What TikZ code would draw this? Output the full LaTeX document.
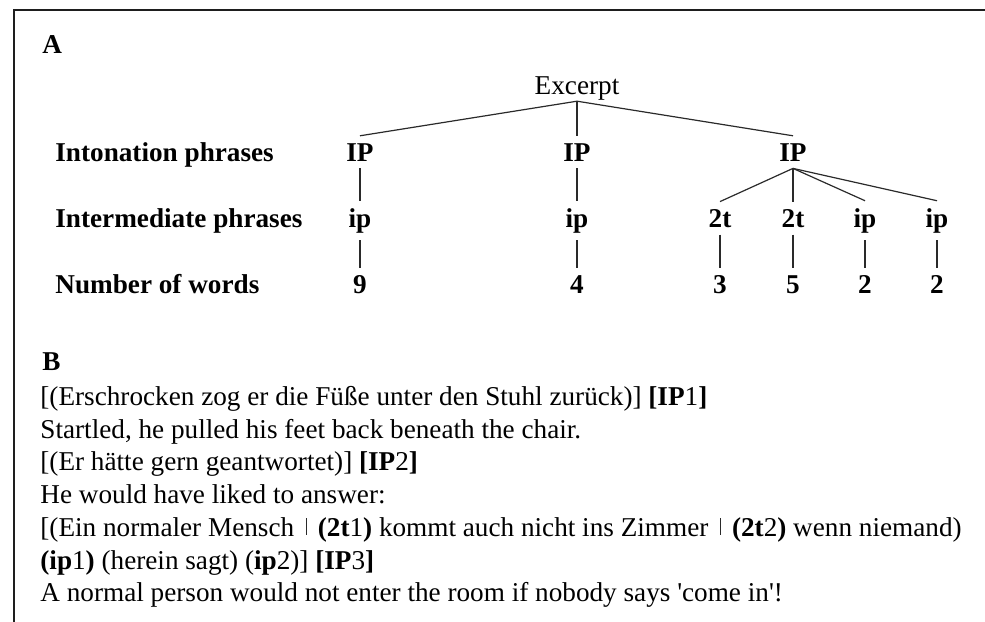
\documentclass[tikz,border=0pt]{standalone}
\usepackage{fontspec}
\setmainfont{Liberation Serif}
\usepackage{tikz}
\usetikzlibrary{positioning}
\definecolor{FrameGray}{HTML}{1E1E1E}
\definecolor{BranchGray}{HTML}{2A2A2A}
\newcommand{\basesize}{\fontsize{13.6}{16.5}\selectfont}
\newcommand{\phrasebar}{\,\textcolor{BranchGray}{\rule[0.05em]{0.5pt}{0.6em}}\,}

\begin{document}
\begin{tikzpicture}[x=0.5pt, y=-0.5pt,
    every node/.style={font=\basesize, text=black},
    tree/.style={font=\basesize\bfseries, anchor=base, inner sep=3.5pt},
    rowlabel/.style={font=\basesize\bfseries, anchor=base west, inner sep=0pt},
    textline/.style={anchor=base west, inner sep=0pt},
    branch/.style={BranchGray, line width=0.6pt},
    frame/.style={FrameGray, line width=1pt}]
    \useasboundingbox (0,0) rectangle (985,621);
    \draw[frame] (995,10) -- (14,10) -- (14,630);

    % part A: the tree
    \node[textline] (partA) at (42,53) {\textbf{A}};
    \node[anchor=base, inner sep=0.5pt] (excerpt) at (577,94) {Excerpt};

    \node[rowlabel] (rowIP) at (55,161) {Intonation phrases};
    \node[rowlabel] (rowip) at (55,227) {Intermediate phrases};
    \node[rowlabel] (rownum) at (55,293) {Number of words};

    \node[tree] (IPa) at (360,161) {IP};
    \node[tree] (IPb) at (577,161) {IP};
    \node[tree] (IPc) at (793,161) {IP};

    \node[tree] (ipa) at (360,227) {ip};
    \node[tree] (ipb) at (577,227) {ip};
    \node[tree] (tta) at (720,227) {2t};
    \node[tree] (ttb) at (793,227) {2t};
    \node[tree] (ipc) at (865,227) {ip};
    \node[tree] (ipd) at (937,227) {ip};

    \node[tree] (na) at (360,293) {9};
    \node[tree] (nb) at (577,293) {4};
    \node[tree] (nc) at (720,293) {3};
    \node[tree] (nd) at (793,293) {5};
    \node[tree] (ne) at (865,293) {2};
    \node[tree] (nf) at (937,293) {2};

    \draw[branch] (excerpt.south) -- (IPa.north);
    \draw[branch] (excerpt.south) -- (IPb.north);
    \draw[branch] (excerpt.south) -- (IPc.north);

    \draw[branch] (IPa) -- (ipa);
    \draw[branch] (IPb) -- (ipb);
    \draw[branch] (IPc.south) -- (tta.north);
    \draw[branch] (IPc.south) -- (ttb.north);
    \draw[branch] (IPc.south) -- (ipc.north);
    \draw[branch] (IPc.south) -- (ipd.north);

    \draw[branch] (ipa) -- (na);
    \draw[branch] (ipb) -- (nb);
    \draw[branch] (tta) -- (nc);
    \draw[branch] (ttb) -- (nd);
    \draw[branch] (ipc) -- (ne);
    \draw[branch] (ipd) -- (nf);

    % part B: the excerpt
    \node[textline] (partB) at (42,370) {\textbf{B}};
    \node[textline] (deA) at (40,405) {[(Erschrocken zog er die Füße unter den Stuhl zurück)] \textbf{[IP}1\textbf{]}};
    \node[textline] (enA) at (40,438) {Startled, he pulled his feet back beneath the chair.};
    \node[textline] (deB) at (40,470) {[(Er hätte gern geantwortet)] \textbf{[IP}2\textbf{]}};
    \node[textline] (enB) at (40,503) {He would have liked to answer:};
    \node[textline] (deC) at (40,536) {[(Ein normaler Mensch \phrasebar{} \textbf{(2t}1\textbf{)} kommt auch nicht ins Zimmer \phrasebar{} \textbf{(2t}2\textbf{)} wenn niemand)};
    \node[textline] (deD) at (40,569) {\textbf{(ip}1\textbf{)} (herein sagt) (\textbf{ip}2)] \textbf{[IP}3\textbf{]}};
    \node[textline] (enC) at (40,601) {A normal person would not enter the room if nobody says \textquotesingle come in\textquotesingle!};
\end{tikzpicture}
\end{document}
